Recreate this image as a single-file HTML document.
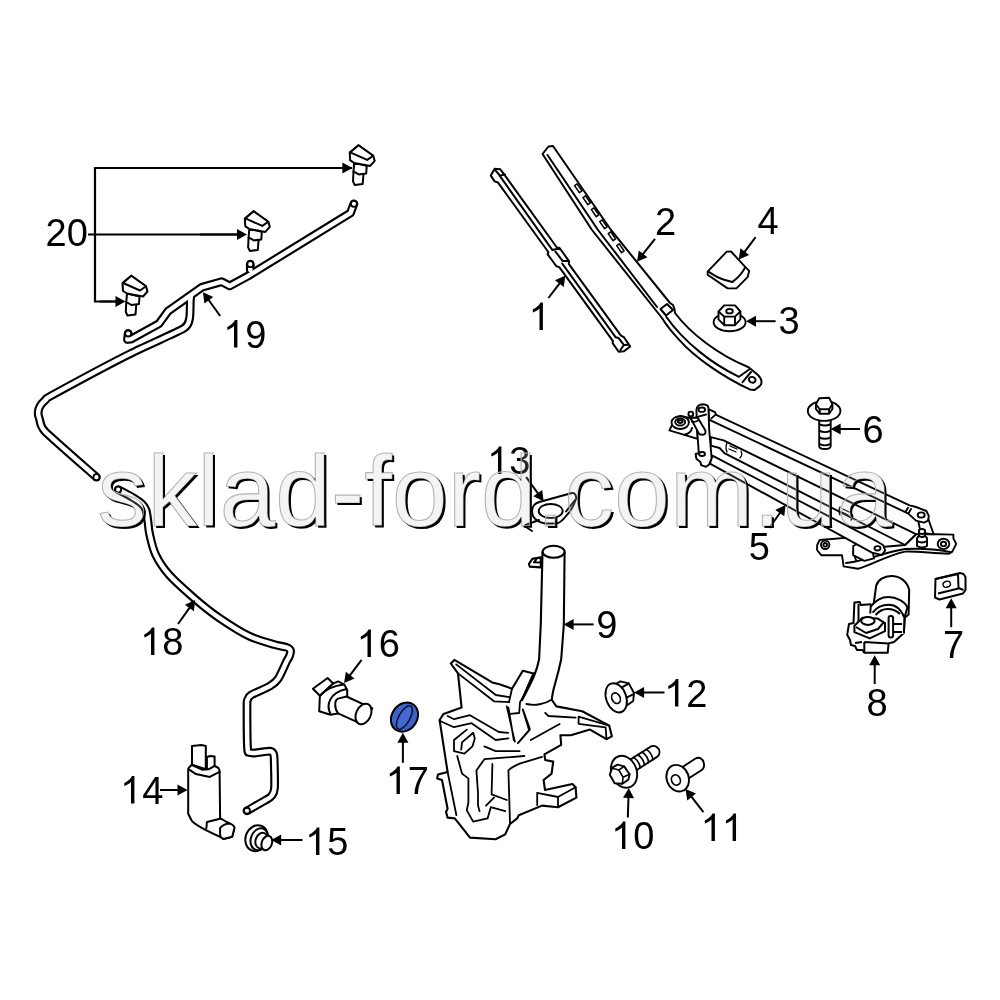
<!DOCTYPE html>
<html><head><meta charset="utf-8"><style>
html,body{margin:0;padding:0;background:#fff;width:1000px;height:1000px;overflow:hidden}
svg{position:absolute;left:0;top:0;will-change:transform}
</style></head><body>
<svg width="1000" height="1000" viewBox="0 0 1000 1000">
<rect width="1000" height="1000" fill="#fff"/>
<g stroke="#000" stroke-width="2.2" fill="none">
<path d="M352,168 L95,168 L95,301.5 L116,301.5"/>
<path d="M88,234.5 L238,234.5"/>
</g>
<line x1="300.0" y1="168.0" x2="343.4" y2="168.0" stroke="#000" stroke-width="2"/>
<polygon points="352.4,168.0 342.4,173.5 342.4,162.5" fill="#000" stroke="none"/>
<line x1="200.0" y1="234.5" x2="238.0" y2="234.5" stroke="#000" stroke-width="2"/>
<polygon points="247.0,234.5 237.0,240.0 237.0,229.0" fill="#000" stroke="none"/>
<line x1="100.0" y1="301.5" x2="116.5" y2="301.5" stroke="#000" stroke-width="2"/>
<polygon points="125.5,301.5 115.5,307.0 115.5,296.0" fill="#000" stroke="none"/>
<g transform="translate(0.0,0.0)" fill="#fff" stroke="#000" stroke-width="2" stroke-linejoin="round">
<path d="M126.3,302.0 L125.8,312.0 L127.5,315.5 L135.5,314.5 L136.3,304.5Z"/>
<path d="M127.0,293.5 L126.3,302.0 L131.5,305.0 L139.0,304.0 L139.5,296.5Z"/>
<path d="M122.5,283.0 L131.3,275.8 L146.0,286.3 L147.5,291.5 L143.0,296.5 L127.0,293.5 L123.0,291.0Z"/>
<path d="M123.0,283.0 L131.3,275.8 L146.0,286.3 L140.0,290.5Z"/>
</g>
<g transform="translate(122.3,-64.6)" fill="#fff" stroke="#000" stroke-width="2" stroke-linejoin="round">
<path d="M126.3,302.0 L125.8,312.0 L127.5,315.5 L135.5,314.5 L136.3,304.5Z"/>
<path d="M127.0,293.5 L126.3,302.0 L131.5,305.0 L139.0,304.0 L139.5,296.5Z"/>
<path d="M122.5,283.0 L131.3,275.8 L146.0,286.3 L147.5,291.5 L143.0,296.5 L127.0,293.5 L123.0,291.0Z"/>
<path d="M123.0,283.0 L131.3,275.8 L146.0,286.3 L140.0,290.5Z"/>
</g>
<g transform="translate(227.2,-130.6)" fill="#fff" stroke="#000" stroke-width="2" stroke-linejoin="round">
<path d="M126.3,302.0 L125.8,312.0 L127.5,315.5 L135.5,314.5 L136.3,304.5Z"/>
<path d="M127.0,293.5 L126.3,302.0 L131.5,305.0 L139.0,304.0 L139.5,296.5Z"/>
<path d="M122.5,283.0 L131.3,275.8 L146.0,286.3 L147.5,291.5 L143.0,296.5 L127.0,293.5 L123.0,291.0Z"/>
<path d="M123.0,283.0 L131.3,275.8 L146.0,286.3 L140.0,290.5Z"/>
</g>
<path d="M128.2,333.5 L127.5,339.5 L131.0,339.1 L159.0,323.7 L168.1,311.1 L201.7,287.3 L221.7,281.7 L229.7,285.9 L248.6,275.7 L350.4,213.1 L353.9,203.8" fill="none" stroke="#000" stroke-width="8.8" stroke-linejoin="round" stroke-linecap="round"/>
<path d="M191.0,296.0 C190.9,296.5 190.4,298.4 190.3,300.6 C190.2,302.8 190.3,315.3 189.6,318.1 C188.9,320.9 189.5,325.0 183.5,328.6 C177.5,332.2 143.2,347.1 130.0,353.8 C116.8,360.4 59.9,390.9 51.5,395.5 C43.1,400.1 47.0,398.6 46.0,399.5 C45.0,400.4 42.2,403.1 41.5,404.0 C40.8,404.9 39.1,408.0 38.8,409.0 C38.5,410.0 38.1,413.0 38.2,414.0 C38.3,415.0 38.8,417.2 39.5,419.0 C40.2,420.8 39.5,425.8 45.2,431.6 C50.9,437.4 91.3,472.6 96.4,477.2" fill="none" stroke="#000" stroke-width="8.8" stroke-linejoin="round" stroke-linecap="round"/>
<path d="M118.2,489.6 C120.3,490.7 128.5,494.9 132.0,497.0 C135.5,499.1 139.4,501.6 141.5,503.5 C143.6,505.4 145.0,507.2 146.0,510.0 C147.0,512.8 147.5,518.4 148.0,522.0 C148.5,525.6 148.5,529.1 149.6,534.0 C150.7,538.9 152.6,548.3 155.5,554.4 C158.4,560.5 163.2,568.2 169.1,574.8 C175.0,581.4 187.2,592.2 194.6,598.6 C202.0,605.0 210.2,611.7 218.4,617.3 C226.6,622.9 240.6,631.9 249.0,636.0 C257.4,640.1 268.9,642.9 274.6,644.6 C280.3,646.3 284.6,646.6 287.0,647.5 C289.4,648.4 290.1,649.2 290.5,650.5 C290.9,651.8 290.1,654.3 289.5,656.0 C288.9,657.7 288.2,658.1 286.5,661.6 C284.8,665.1 280.5,675.3 278.0,679.0 C275.5,682.7 274.0,683.6 270.0,686.0 C266.0,688.4 254.6,692.9 251.2,695.0 C247.9,697.1 248.1,698.4 247.5,700.0 C246.9,701.6 247.0,698.9 247.0,706.0 C247.0,713.1 247.1,740.5 247.5,747.5 C247.9,754.5 248.4,751.7 249.5,752.5 C250.6,753.3 251.9,753.2 255.0,753.0 C258.1,752.8 267.2,751.1 270.0,751.2 C272.8,751.4 272.9,752.7 273.5,754.0 C274.1,755.3 274.1,754.9 274.2,760.0 C274.3,765.1 274.9,782.6 274.5,788.0 C274.1,793.4 272.9,794.1 271.5,796.0 C270.1,797.9 268.7,798.3 265.0,800.5 C261.3,802.7 249.7,809.2 247.0,810.8" fill="none" stroke="#000" stroke-width="8.8" stroke-linejoin="round" stroke-linecap="round"/>
<path d="M250.3,264.2 L250.3,270.0" fill="none" stroke="#000" stroke-width="8.8" stroke-linejoin="round" stroke-linecap="round"/>
<path d="M128.2,333.5 L127.5,339.5 L131.0,339.1 L159.0,323.7 L168.1,311.1 L201.7,287.3 L221.7,281.7 L229.7,285.9 L248.6,275.7 L350.4,213.1 L353.9,203.8" fill="none" stroke="#fff" stroke-width="4.5" stroke-linejoin="round" stroke-linecap="round"/>
<path d="M191.0,296.0 C190.9,296.5 190.4,298.4 190.3,300.6 C190.2,302.8 190.3,315.3 189.6,318.1 C188.9,320.9 189.5,325.0 183.5,328.6 C177.5,332.2 143.2,347.1 130.0,353.8 C116.8,360.4 59.9,390.9 51.5,395.5 C43.1,400.1 47.0,398.6 46.0,399.5 C45.0,400.4 42.2,403.1 41.5,404.0 C40.8,404.9 39.1,408.0 38.8,409.0 C38.5,410.0 38.1,413.0 38.2,414.0 C38.3,415.0 38.8,417.2 39.5,419.0 C40.2,420.8 39.5,425.8 45.2,431.6 C50.9,437.4 91.3,472.6 96.4,477.2" fill="none" stroke="#fff" stroke-width="4.5" stroke-linejoin="round" stroke-linecap="round"/>
<path d="M118.2,489.6 C120.3,490.7 128.5,494.9 132.0,497.0 C135.5,499.1 139.4,501.6 141.5,503.5 C143.6,505.4 145.0,507.2 146.0,510.0 C147.0,512.8 147.5,518.4 148.0,522.0 C148.5,525.6 148.5,529.1 149.6,534.0 C150.7,538.9 152.6,548.3 155.5,554.4 C158.4,560.5 163.2,568.2 169.1,574.8 C175.0,581.4 187.2,592.2 194.6,598.6 C202.0,605.0 210.2,611.7 218.4,617.3 C226.6,622.9 240.6,631.9 249.0,636.0 C257.4,640.1 268.9,642.9 274.6,644.6 C280.3,646.3 284.6,646.6 287.0,647.5 C289.4,648.4 290.1,649.2 290.5,650.5 C290.9,651.8 290.1,654.3 289.5,656.0 C288.9,657.7 288.2,658.1 286.5,661.6 C284.8,665.1 280.5,675.3 278.0,679.0 C275.5,682.7 274.0,683.6 270.0,686.0 C266.0,688.4 254.6,692.9 251.2,695.0 C247.9,697.1 248.1,698.4 247.5,700.0 C246.9,701.6 247.0,698.9 247.0,706.0 C247.0,713.1 247.1,740.5 247.5,747.5 C247.9,754.5 248.4,751.7 249.5,752.5 C250.6,753.3 251.9,753.2 255.0,753.0 C258.1,752.8 267.2,751.1 270.0,751.2 C272.8,751.4 272.9,752.7 273.5,754.0 C274.1,755.3 274.1,754.9 274.2,760.0 C274.3,765.1 274.9,782.6 274.5,788.0 C274.1,793.4 272.9,794.1 271.5,796.0 C270.1,797.9 268.7,798.3 265.0,800.5 C261.3,802.7 249.7,809.2 247.0,810.8" fill="none" stroke="#fff" stroke-width="4.5" stroke-linejoin="round" stroke-linecap="round"/>
<path d="M250.3,264.2 L250.3,270.0" fill="none" stroke="#fff" stroke-width="4.5" stroke-linejoin="round" stroke-linecap="round"/>
<circle cx="128.2" cy="333.5" r="3.0" fill="#fff" stroke="#000" stroke-width="1.8"/>
<circle cx="353.9" cy="203.8" r="3.0" fill="#fff" stroke="#000" stroke-width="1.8"/>
<circle cx="96.4" cy="477.2" r="3.0" fill="#fff" stroke="#000" stroke-width="1.8"/>
<circle cx="118.2" cy="489.6" r="3.0" fill="#fff" stroke="#000" stroke-width="1.8"/>
<circle cx="247" cy="810.75" r="3.0" fill="#fff" stroke="#000" stroke-width="1.8"/>
<circle cx="250.3" cy="264.2" r="3.0" fill="#fff" stroke="#000" stroke-width="1.8"/>
<g fill="#fff" stroke="#000" stroke-width="2.0" stroke-linejoin="round" stroke-linecap="round">
<g transform="translate(498.4,175) rotate(54.05)">
<path d="M-7.2,-0.6 L-3.5,-4.9 L3.5,-5.0 L93.0,-4.8 L95.0,-6.7 L111.4,-6.6 L113.2,-4.8 L202.0,-4.9 L205.0,-6.4 L216.1,-6.0 L216.4,1.8 L213.7,6.4 L203.1,6.2 L201.8,4.8 L110.3,4.8 L107.9,6.6 L92.9,6.7 L91.9,4.8 L5.7,4.8 L3.0,6.8 L-4.0,6.5Z"/>
<path fill="none" d="M-6.6,-0.3 L1.3,-0.9 L3.6,-5.6 M1.3,-0.6 L92.5,0.3 M92.5,0.3 Q94,-4.6 96.3,-6.3 M95.5,-1.2 L107.1,-1.6 M107.1,-1.2 L110.6,-6.1 M109.2,0.3 L200.3,0.3 M200.3,0.3 L202.6,-1.6 L211.2,-1.8 L214.0,-5.8 M211.2,-2.0 L213.3,4.0"/>
</g>
<path d="M542.5,154 L548.5,146.5 L553,146 L611,230 L670,303 L673,305 L674.5,309 L675,313 C690,333 718,355 748.6,367.2 L758,375 C763,380 762,385 759.4,386.4 L754.6,390 L749.8,389.4 C725,378 695,358 679,339.6 C670,330 665,323 662,318 L592,230 Z"/>
<path fill="none" d="M547.5,155 L598,230 L657,307 M666.4,317 C672,325 685,340 699.4,351.6 C712,362 725,370 739,376.8 M739,376.8 L749.8,369 M742.6,382.2 L751,372 M660.5,309 L667,304 L673,310 L666,315.5 Z"/>
<ellipse cx="752.2" cy="379.8" rx="3.4" ry="2.8" transform="rotate(20 752.2 379.8)"/>
<path fill="none" stroke-width="1.5" d="M577.1,183.9 L574.6,185.6 L579.5,192.7 L582.0,191.0Z"/>
<path fill="none" stroke-width="1.5" d="M585.5,195.9 L583.0,197.6 L587.9,204.7 L590.4,203.0Z"/>
<path fill="none" stroke-width="1.5" d="M593.9,207.9 L591.4,209.6 L596.3,216.7 L598.8,215.0Z"/>
<path fill="none" stroke-width="1.5" d="M602.2,219.9 L599.7,221.6 L604.6,228.7 L607.1,227.0Z"/>
<path fill="none" stroke-width="1.5" d="M610.7,231.9 L608.2,233.6 L613.1,240.7 L615.6,239.0Z"/>
<path fill="none" stroke-width="1.5" d="M619.2,243.9 L616.7,245.6 L621.6,252.7 L624.1,251.0Z"/>
</g>
<g fill="#fff" stroke="#000" stroke-width="1.9" stroke-linejoin="round">
<path d="M707.6,271.6 L726.8,251.6 L731,251.5 L745.2,266.8 L749.2,270.8 L747.6,277.2 L736.4,288.4 L727.6,288.4 L707.6,274.8 Z"/>
<path fill="none" d="M708.4,271.6 C715,276 720,279 725,280 L732.4,282 L738,277.2 C741,274 744,270 745.2,266.8"/>
<ellipse cx="729.6" cy="322.2" rx="16" ry="9.1"/>
<path d="M718.5,311.5 L724.2,305.4 L735,305.4 L740.4,311.5 L740.4,319.4 L735,325.2 L724.2,325.2 L718.5,319.4 Z"/>
<path fill="none" d="M718.5,311.5 L724.2,316.6 L735,316.6 L740.4,311.5 M724.2,316.6 L724.2,325.2 M735,316.6 L735,325.2"/>
<ellipse cx="729.5" cy="311.2" rx="3.3" ry="2.2"/>
<path d="M819.2,420 L819.2,446 Q819.2,449 824.9,449 Q830.7,449 830.7,446 L830.7,420 Z"/>
<path fill="none" d="M819.2,424.1 Q824.9,427 830.7,424.1 M819.2,430.7 Q824.9,433.6 830.7,430.7 M819.2,437.3 Q824.9,440.2 830.7,437.3 M819.2,443.9 Q824.9,446.8 830.7,443.9"/>
<ellipse cx="824.1" cy="410.9" rx="16.3" ry="10"/>
<path d="M815.9,404.3 L819.2,398.3 L829.1,397.7 L832.4,404.3 L832.4,409 L829.1,413.7 L819.7,413.7 L815.9,409 Z"/>
<path fill="none" d="M815.9,404.3 L819.7,409.3 L829.1,409.3 L832.4,404.3 M819.7,409.3 L819.7,413.7 M829.1,409.3 L829.1,413.7"/>
</g>
<g fill="#fff" stroke="#000" stroke-width="1.9" stroke-linejoin="round" stroke-linecap="round">
<path d="M817.2,545 L819.6,540 L832,539 L848,537.6 L870,548 L905,545 L916,534.2 L926,534 L953.4,534.6 L953.4,538.4 L956.2,543.9 L952.3,551.6 L949,553.8 C930,553 915,551 905,551.6 C885,556 870,566 858,568.8 L843.6,566.4 L842,555.2 L821.2,555.2 L817,550 Z"/>
<path fill="none" d="M846,563 C870,560 885,552 905,549 C925,548 940,550 950,552"/>
<path fill="none" d="M853,552 L856,560"/>
<circle cx="825.2" cy="544.8" r="4.2"/><circle cx="825.2" cy="544.8" r="1.8"/>
<ellipse cx="943.5" cy="543.9" rx="5.8" ry="5.2"/><ellipse cx="943.5" cy="543.9" rx="2.6" ry="2.2"/>
<path d="M853.2,546 L858,543.5 L862.8,543.2 L872.4,550.4 L874,558.4 L864.4,560.8 L853.2,555.2 Z"/>
<path d="M710.8,437.2 L723.6,440.4 L916,534.2 L905,545 L724.4,453.2 L719.6,448 L710.8,445.6 Z"/>
<path fill="none" stroke-width="1.3" d="M727,443 Q725,447 727,452 M730,446 L737,449 M729,449 L736,452 M741,451 Q743,455 740,458 M840,507 Q838,511 840,515 M843,509 L849,512 M842,512 L848,515 M852,514 Q854,517 851,520"/>
<path d="M712.4,455.6 L877.5,541.7 L883,545 L885.2,550.5 L881.9,554.9 L872,552.7 L710,463.6 Z"/>
<ellipse cx="877.5" cy="548.3" rx="3" ry="2.2"/>
<path d="M918.4,522 L920.8,533 L933.6,534.2 L928,518 Z"/>
<path d="M708.4,409.1 L715,412.1 L716.2,414.8 L909.6,505.4 L916,507 L926.4,511 L928.8,515.8 L928,520.6 L924,522.6 L916,520.6 L908,513.4 L709,419.6 Z"/>
<path fill="none" d="M711.4,418.4 L715,415.1 M908,507.8 L906,511 M911,509 L909,512.5"/>
<ellipse cx="921.2" cy="515" rx="3.5" ry="2.6"/>
<path d="M917,546 L917,538 L919,536 L919,530 Q922,528 925,530 L925,536 L927,538 L927,546 Q922,549 917,546 Z"/>
<path fill="none" d="M919,533 Q922,535 925,533 M919,536 Q922,538 925,536 M917,541 Q922,544 927,541"/>
<path d="M669.4,430.4 L673,423 L680,416 L690,418 L697,425 L697.6,438.8 Z"/>
<ellipse cx="680.2" cy="422.6" rx="8.7" ry="6.4"/><ellipse cx="680.2" cy="422" rx="5" ry="3.5"/><ellipse cx="680.2" cy="421.6" rx="2.4" ry="1.4"/>
<path fill="none" d="M692,428 Q691,433 685,434.5"/>
<path d="M696.4,410 Q697,404.5 703,404.3 Q708.4,404.5 708.4,408 L709.2,430 L711.6,458 L709.2,464.4 L706,466.8 L701.2,465.2 L700.4,462 L696.4,458.8 L695.6,454 L698.8,453.2 L697.2,430 Z"/>
<ellipse cx="701.8" cy="409.7" rx="3.3" ry="2.2"/><ellipse cx="702" cy="454" rx="3" ry="2"/>
<path fill="none" d="M698.5,416.6 L706,414.5"/>
<path d="M690.4,417.8 L697.6,417.5 L705.4,430.4 Q706,435 702.4,434.8 Q699.5,434.6 698.8,433.4 Z"/>
<circle cx="690.8" cy="414" r="2.4"/>
<path fill="none" d="M692,421.5 Q695,422.5 698,420.5"/>
</g>
<g fill="#fff" stroke="#000" stroke-width="2.0" stroke-linejoin="round">
<path d="M935.5,579 L960,573 L963.5,574 L965.5,577 L965.5,590 L963,593.5 L939.5,599.5 L935,597.5 Z"/>
<path fill="none" d="M935.5,579 L958,574 L958.5,588 L963.5,590 M938,593.5 L958.5,588.5"/>
<ellipse cx="946.75" cy="584.25" rx="3.8" ry="2.9" transform="rotate(-20 946.75 584.25)" stroke-width="1.4"/>
<path d="M854.4,602.4 L859.8,602 L860.7,605.1 L870.6,604.2 L873,612 L904.8,617.7 L903.9,633 L894,642 L888.6,643.4 L887.7,652.8 L864.3,652.8 L862.5,650.1 L857,650 L855,646 L851,645 L850,640 L847.2,634.8 L849,624 L853.5,623.1 Z"/>
<path fill="none" d="M864.3,642 L864.3,652.8 M864.3,642 L888.6,643.4 M858.5,604 L858.5,623 M855,643 L862,642"/>
<path d="M873.8,603 L876.2,585.6 C878,580 884,576 891.2,576 C900,576 907,581 909.2,589.8 L908.6,614.4 L904.4,618 L874,612 Z"/>
<path stroke="none" d="M870.8,606.5 C876,600 882,597 888.2,597 C897,597 905,602 907.4,607.2 L904.4,618 L903.6,634 L872,634 L870.2,614 Z"/>
<path fill="none" d="M870.8,606.5 C876,600 882,597 888.2,597 C897,597 905,602 907.4,607.2 L904.4,618 L903.9,633 M870.8,606 L870.2,613.5 M872.6,612.6 C877,607 883,604.8 888.8,604.8 C896,604.8 901,609.5 904.4,617.5 M875.6,615 C879,611 883,609 887.6,609 C893,609 897,611 900,614"/>
<path d="M854.4,625.8 L862.5,617.7 L877.8,618.6 L885,623.1 L885,631.2 L869.7,638.4 L854.4,632.1 Z"/>
<path fill="none" d="M856,627 L866,633 L878,629 L884,622"/>
<ellipse cx="867.9" cy="620.9" rx="6.7" ry="4"/>
<rect x="888.6" y="615.9" width="4.5" height="21.6" rx="2"/>
<path fill="none" d="M893.1,624 L902.1,624 M893.1,632 L902.1,632"/>
</g>
<g fill="#fff" stroke="#000" stroke-width="2.1" stroke-linejoin="round" stroke-linecap="round">
<path d="M461.6,707.6 L443.6,713.9 L439.6,720 L447.6,772 L438,774.4 L437.2,778.4 L442,780 L447.6,808.8 L446,812 L447.6,817.6 L454.8,818.4 L470,837.6 L495.6,839.2 L505.2,834.4 L510,824 L517.2,818.4 L518.8,815.2 L542,805.6 L558,807.2 L576.4,797.6 L575.6,787.2 L572.4,784 L545,790 L543.6,780 L551.6,773.6 L553.2,761.6 L545.2,760 L544.4,754.4 L561.2,744.8 L560.4,735.2 L570.8,735.2 L590,729.6 L606.5,739.1 L611.9,736.4 L609.2,725.6 L582.2,711.2 L556.4,706.4 L551.9,700 C552,690 556,684 561.2,659.3 L563.8,625.2 L564.6,552.1 L542.5,552.1 L540.8,623.5 L539.1,659.3 C537,670 534,678 522.1,700 L533.6,673.4 L522.8,670.7 L512,688.7 L499.4,684.2 L492.2,682.4 L454.4,659.9 L450.8,663.5 L458,673.4 Z"/>
<ellipse cx="553.6" cy="551.8" rx="11" ry="6"/>
<path d="M540.8,557.2 L532.3,558.9 L528.9,564 L529.8,566.6 L540.8,567.4 Z"/><path fill="none" d="M536.6,558.9 L534,562.3 L540.8,562.5"/>
<path fill="none" stroke-width="1.8" d="M458,673.4 L494,701.3 L509.3,702.2 M456.2,664.4 L495.8,695 L509.3,697.2 M512,688.7 L509,702 M533.6,673.4 L523,697 M508.4,707.6 L513.8,740 M510.2,713.9 L519.2,713 L520,702.2 L523,697 M522.8,709.4 L530,729.2 L518.3,742.7 M526.4,704 C535,706 545,704 551,700 M447.6,716 L454,719.2 L470,715.2 L498.8,732 L508.4,732.8 M439.6,720.8 L454,727.2 L471.6,723.2 L495.6,740 L508.4,738.4 M466.8,729.6 L454,740 L454,751.2 L464.4,753.6 L472.4,746.4 L474.8,738.4 L473.2,732.8 L462,742.4 L461.2,749.6 M484.4,746.4 L495.6,751.2 L519.6,751.2 M524.4,756 L484.4,759.2 L476.4,770.4 L478,792.8 L478,805.6 L479.6,811.2 M457.2,756 L462,773.6 L468.4,778.4 L468.4,802.4 L466.8,810.4 L473.2,821.6 L487.6,818.4 L490.8,807.2 L505.2,811.2 M492.4,764 L491.6,794.4 L506.8,800 M486,805.6 L494,797.6 M510,823.2 L508.4,770.4 C512,767 516,765 521.2,763.2 L542,756.8 M530.8,740 L559.6,724 M506.8,706.4 L514.8,741.6 M522.8,709.6 L529.2,730.4 L518,743.2 M545.2,712.8 L548.4,716 L575.6,717.6 M447.6,772 L456.4,815.2 M537.2,792.8 L558,797 L575.6,787.2 M558,797 L558,807.2 M537.2,792.8 L537.2,805 M578.6,716.6 L578.6,723.8 L605.6,727.4 L606.5,739.1 M578.6,716.6 L609.2,725.6"/>
</g>
<g fill="#fff" stroke="#000" stroke-width="1.9" stroke-linejoin="round" stroke-linecap="round">
<path d="M612,686 L620.4,681.4 L628.8,683.4 L634,693 L633.2,701 L626,706 Z"/>
<path fill="none" d="M620.8,687.8 L628.8,683.6 M626,697.8 L633.6,694.2"/>
<ellipse cx="616.2" cy="697.8" rx="10" ry="15.1" transform="rotate(-20 616.2 697.8)"/>
<ellipse cx="616" cy="698.2" rx="4.1" ry="5.5" transform="rotate(-25 616 698.2)" stroke-width="1.7"/>
<path d="M629,760.4 L650.5,746.7 A6.1,6.1 0 0 1 657.1,756.9 L635.6,770.7 Z"/>
<path fill="none" stroke-width="1.7" d="M633.6,757.4 Q639.3,761.1 640.2,767.7 M637.9,754.7 Q643.5,758.4 644.4,765.0 M642.1,752.0 Q647.7,755.7 648.6,762.3 M646.3,749.4 Q651.9,753.0 652.9,759.6"/>
<ellipse cx="624" cy="771.8" rx="12.6" ry="16.4" transform="rotate(-21 624 771.8)"/>
<path d="M609.8,774.8 L612.2,767.6 L617.6,764.6 L624.2,766.4 L629.6,774.2 L628.4,779.6 L622.4,783.8 L614.6,783.2 Z"/>
<path fill="none" stroke-width="1.6" d="M612.2,768.2 L618.8,770 L624.2,766.4 M618.8,770 L623,777.2 L629.6,774.2 M623,777.2 L622.4,783.8"/>
<path d="M681,768 L695.5,758.5 C699,756.5 703,758.5 703.8,763 C704.5,766 703.5,769 701,770.5 L688.5,778.5 Z"/>
<ellipse cx="677.7" cy="778.2" rx="11" ry="13.6" transform="rotate(-20 677.7 778.2)"/>
<ellipse cx="675.9" cy="780" rx="4.3" ry="5.3" transform="rotate(-25 675.9 780)" stroke-width="1.7"/>
<path d="M533,507 C534,504 538,502 543,501 L572,493 C575,492.6 576.5,495.5 576,499 C574,505 570,512 566,516 C563,520 560,523 556,523.5 L545,523.5 C540,522.5 535,520 533,516 C532,513 532,509 533,507 Z"/>
<ellipse cx="550.7" cy="511" rx="12" ry="7"/>
<path fill="none" d="M566,511.5 L575,500 M526,527 L532,531 M525.5,525 L539,520"/>
</g>
<g fill="#fff" stroke="#000" stroke-width="2.0" stroke-linejoin="round" stroke-linecap="round">
<path d="M192,764.8 L192,746 L201.4,745 L205.8,746 L205.8,769.2 Z"/>
<path d="M206.9,769 L206.9,757 L210.2,756 L214.6,756.5 L214.6,769 Z"/>
<path d="M188.2,768.6 L191.5,764.8 L202,769.7 L209.1,769.2 L214.6,765.9 L218.5,768 L219.6,770.8 L220.1,818.1 L226.7,822 L230,823.6 L234.4,828 L232.2,836.8 L223.4,839 L220.1,836.8 C205,830 195,825 191.5,820.3 L188.2,813.7 Z"/>
<path fill="none" d="M189.3,769.7 L195.9,774.1 L209.7,776.9 L219.6,771.9 M206.9,822 L206.4,828 M206.9,822 L220.1,818.7"/>
<path d="M220.1,828 Q224,823.6 230,823.6 Q234.4,825 234.4,828 L232.2,836.8 L223.4,839 Q219.5,837 220.1,834.6 Z"/>
<ellipse cx="256.6" cy="838.2" rx="11" ry="13.2" transform="rotate(20 256.6 838.2)"/>
<ellipse cx="259.3" cy="839.2" rx="8.4" ry="11.2" transform="rotate(20 259.3 839.2)"/>
<ellipse cx="261.6" cy="840.6" rx="6" ry="8" transform="rotate(20 261.6 840.6)"/>
<ellipse cx="266.8" cy="843" rx="5.1" ry="7.4" transform="rotate(20 266.8 843)"/>
<path d="M312.9,688.8 L327.6,678 L333.2,683.5 L319.9,695.8 Z"/>
<path d="M319.9,695.8 L333.2,683.5 L338.1,681.4 L344.4,684.6 L347.2,690.2 L347.2,696.5 L338.1,713.5 L330.4,714.7 L319.2,711.2 Z"/>
<path fill="none" d="M320.6,695.1 Q328,686.5 344,684.5 M330.4,713.8 C326,705 329,693 346.5,689.1"/>
<path d="M346.5,696.5 L372.4,708.4 L361.2,723.8 L338.1,713.3 C334,708 334.5,700 338.1,698.6 L346.5,696.5 Z"/>
<ellipse cx="363.5" cy="714" rx="7.3" ry="10.8" transform="rotate(25 363.5 714)"/>
<ellipse cx="404.5" cy="717.1" rx="12.6" ry="15.4" transform="rotate(35 404.5 717.1)" fill="#3f62c6" stroke-width="2"/>
<ellipse cx="404.4" cy="717.5" rx="5.6" ry="13" transform="rotate(29 404.4 717.5)" fill="#4468d0" stroke="#0c1038" stroke-width="1.5"/>
</g>
<g font-family="Liberation Sans, sans-serif" fill="#000">
<text x="45.60" y="246" font-size="38">2</text>
<text x="66.73" y="246" font-size="38">0</text>
<path d="M234.00,347.50 L237.40,347.50 L237.40,320.10 L235.00,320.10 C233.80,322.90 231.00,325.30 227.30,327.00 L227.30,330.10 C229.80,329.10 232.40,327.70 234.00,326.10 Z" stroke="none"/>
<text x="245.13" y="347.5" font-size="38">9</text>
<path d="M151.00,655.00 L154.40,655.00 L154.40,627.60 L152.00,627.60 C150.80,630.40 148.00,632.80 144.30,634.50 L144.30,637.60 C146.80,636.60 149.40,635.20 151.00,633.60 Z" stroke="none"/>
<text x="162.13" y="655" font-size="38">8</text>
<path d="M131.00,803.50 L134.40,803.50 L134.40,776.10 L132.00,776.10 C130.80,778.90 128.00,781.30 124.30,783.00 L124.30,786.10 C126.80,785.10 129.40,783.70 131.00,782.10 Z" stroke="none"/>
<text x="142.13" y="803.5" font-size="38">4</text>
<path d="M316.00,855.00 L319.40,855.00 L319.40,827.60 L317.00,827.60 C315.80,830.40 313.00,832.80 309.30,834.50 L309.30,837.60 C311.80,836.60 314.40,835.20 316.00,833.60 Z" stroke="none"/>
<text x="327.13" y="855" font-size="38">5</text>
<path d="M367.50,657.00 L370.90,657.00 L370.90,629.60 L368.50,629.60 C367.30,632.40 364.50,634.80 360.80,636.50 L360.80,639.60 C363.30,638.60 365.90,637.20 367.50,635.60 Z" stroke="none"/>
<text x="378.63" y="657" font-size="38">6</text>
<path d="M396.50,794.00 L399.90,794.00 L399.90,766.60 L397.50,766.60 C396.30,769.40 393.50,771.80 389.80,773.50 L389.80,776.60 C392.30,775.60 394.90,774.20 396.50,772.60 Z" stroke="none"/>
<text x="407.63" y="794" font-size="38">7</text>
<path d="M675.00,706.50 L678.40,706.50 L678.40,679.10 L676.00,679.10 C674.80,681.90 672.00,684.30 668.30,686.00 L668.30,689.10 C670.80,688.10 673.40,686.70 675.00,685.10 Z" stroke="none"/>
<text x="686.13" y="706.5" font-size="38">2</text>
<path d="M622.00,849.00 L625.40,849.00 L625.40,821.60 L623.00,821.60 C621.80,824.40 619.00,826.80 615.30,828.50 L615.30,831.60 C617.80,830.60 620.40,829.20 622.00,827.60 Z" stroke="none"/>
<text x="633.13" y="849" font-size="38">0</text>
<path d="M711.50,841.00 L714.90,841.00 L714.90,813.60 L712.50,813.60 C711.30,816.40 708.50,818.80 704.80,820.50 L704.80,823.60 C707.30,822.60 709.90,821.20 711.50,819.60 Z" stroke="none"/>
<path d="M732.63,841.00 L736.03,841.00 L736.03,813.60 L733.63,813.60 C732.43,816.40 729.63,818.80 725.93,820.50 L725.93,823.60 C728.43,822.60 731.03,821.20 732.63,819.60 Z" stroke="none"/>
<path d="M498.00,474.00 L501.40,474.00 L501.40,446.60 L499.00,446.60 C497.80,449.40 495.00,451.80 491.30,453.50 L491.30,456.60 C493.80,455.60 496.40,454.20 498.00,452.60 Z" stroke="none"/>
<text x="509.13" y="474" font-size="38">3</text>
<path d="M539.50,330.00 L542.90,330.00 L542.90,302.60 L540.50,302.60 C539.30,305.40 536.50,307.80 532.80,309.50 L532.80,312.60 C535.30,311.60 537.90,310.20 539.50,308.60 Z" stroke="none"/>
<text x="655.00" y="235" font-size="38">2</text>
<text x="757.50" y="234" font-size="38">4</text>
<text x="778.50" y="334" font-size="38">3</text>
<text x="862.50" y="442.5" font-size="38">6</text>
<text x="943.00" y="657.5" font-size="38">7</text>
<text x="866.50" y="715.5" font-size="38">8</text>
<text x="748.80" y="559.8" font-size="38">5</text>
<text x="596.20" y="638.4" font-size="38">9</text>
</g>
<line x1="220.2" y1="316.0" x2="208.3" y2="299.5" stroke="#000" stroke-width="2"/>
<polygon points="203.0,292.2 213.3,297.1 204.4,303.5" fill="#000" stroke="none"/>
<line x1="178.0" y1="624.0" x2="190.0" y2="607.2" stroke="#000" stroke-width="2"/>
<polygon points="195.2,599.9 193.9,611.2 184.9,604.8" fill="#000" stroke="none"/>
<line x1="160.0" y1="790.0" x2="178.5" y2="790.0" stroke="#000" stroke-width="2"/>
<polygon points="187.5,790.0 177.5,795.5 177.5,784.5" fill="#000" stroke="none"/>
<line x1="302.5" y1="840.0" x2="280.2" y2="840.0" stroke="#000" stroke-width="2"/>
<polygon points="271.2,840.0 281.2,834.5 281.2,845.5" fill="#000" stroke="none"/>
<line x1="361.6" y1="659.9" x2="349.5" y2="675.8" stroke="#000" stroke-width="2"/>
<polygon points="344.1,683.0 345.8,671.7 354.5,678.4" fill="#000" stroke="none"/>
<line x1="402.9" y1="762.8" x2="402.9" y2="741.8" stroke="#000" stroke-width="2"/>
<polygon points="402.9,732.8 408.4,742.8 397.4,742.8" fill="#000" stroke="none"/>
<line x1="664.5" y1="692.5" x2="643.1" y2="692.5" stroke="#000" stroke-width="2"/>
<polygon points="634.1,692.5 644.1,687.0 644.1,698.0" fill="#000" stroke="none"/>
<line x1="627.8" y1="817.5" x2="628.5" y2="797.0" stroke="#000" stroke-width="2"/>
<polygon points="628.8,788.0 634.0,798.2 623.0,797.8" fill="#000" stroke="none"/>
<line x1="703.4" y1="812.2" x2="691.0" y2="796.2" stroke="#000" stroke-width="2"/>
<polygon points="685.5,789.1 696.0,793.6 687.3,800.4" fill="#000" stroke="none"/>
<line x1="526.2" y1="477.2" x2="538.3" y2="493.9" stroke="#000" stroke-width="2"/>
<polygon points="543.6,501.2 533.3,496.3 542.2,489.9" fill="#000" stroke="none"/>
<line x1="548.4" y1="298.0" x2="560.0" y2="282.8" stroke="#000" stroke-width="2"/>
<polygon points="565.4,275.6 563.7,286.9 555.0,280.2" fill="#000" stroke="none"/>
<line x1="655.0" y1="238.8" x2="642.5" y2="254.7" stroke="#000" stroke-width="2"/>
<polygon points="637.0,261.8 638.8,250.5 647.5,257.3" fill="#000" stroke="none"/>
<line x1="755.6" y1="237.2" x2="744.2" y2="252.4" stroke="#000" stroke-width="2"/>
<polygon points="738.8,259.6 740.4,248.3 749.2,254.9" fill="#000" stroke="none"/>
<line x1="775.6" y1="321.2" x2="755.0" y2="321.2" stroke="#000" stroke-width="2"/>
<polygon points="746.0,321.2 756.0,315.7 756.0,326.7" fill="#000" stroke="none"/>
<line x1="859.9" y1="429.0" x2="839.7" y2="429.0" stroke="#000" stroke-width="2"/>
<polygon points="830.7,429.0 840.7,423.5 840.7,434.5" fill="#000" stroke="none"/>
<line x1="951.2" y1="627.2" x2="951.2" y2="607.3" stroke="#000" stroke-width="2"/>
<polygon points="951.2,598.3 956.7,608.3 945.7,608.3" fill="#000" stroke="none"/>
<line x1="874.7" y1="684.1" x2="874.7" y2="664.2" stroke="#000" stroke-width="2"/>
<polygon points="874.7,655.2 880.2,665.2 869.2,665.2" fill="#000" stroke="none"/>
<line x1="769.4" y1="528.0" x2="780.4" y2="512.3" stroke="#000" stroke-width="2"/>
<polygon points="785.5,504.9 784.3,516.2 775.3,510.0" fill="#000" stroke="none"/>
<line x1="593.6" y1="624.4" x2="572.6" y2="624.4" stroke="#000" stroke-width="2"/>
<polygon points="563.6,624.4 573.6,618.9 573.6,629.9" fill="#000" stroke="none"/>
</svg>
<svg width="1000" height="1000" viewBox="0 0 1000 1000" >
<defs><mask id="wmk" maskUnits="userSpaceOnUse" x="0" y="0" width="1000" height="1000">
<rect width="1000" height="1000" fill="#fff"/>
<text x="97.5" y="526" fill="#000" font-family="Liberation Sans, sans-serif" font-size="100">sklad-ford.com.ua</text>
</mask></defs>
<g font-family="Liberation Sans, sans-serif" font-size="100">
<text x="97.5" y="526" fill="none" stroke="#b4b4b4" stroke-width="1.1">sklad-ford.com.ua</text>
<g mask="url(#wmk)"><text x="99.6" y="528.2" fill="#000">sklad-ford.com.ua</text></g>
<text x="97.5" y="526" fill="#c8c8c8" fill-opacity="0.2">sklad-ford.com.ua</text>
</g>
</svg>
</body></html>
